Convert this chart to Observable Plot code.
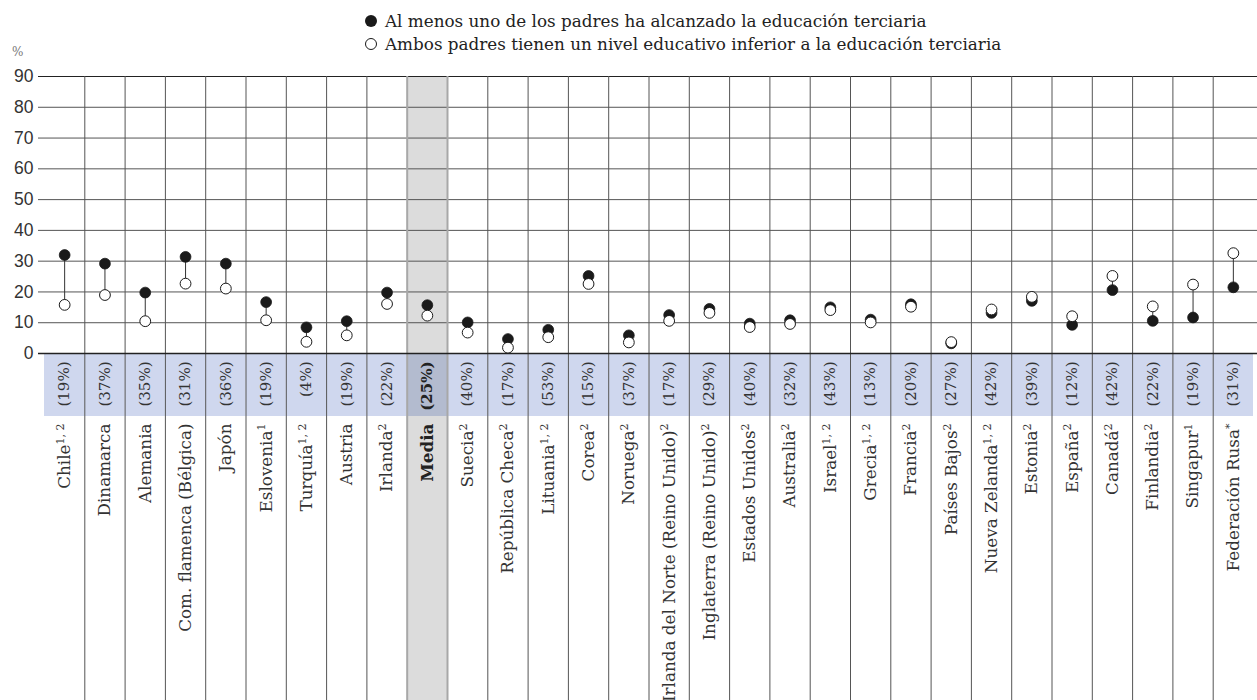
<!DOCTYPE html>
<html>
<head>
<meta charset="utf-8">
<script src="https://cdn.jsdelivr.net/npm/d3@7"></script>
<script src="https://cdn.jsdelivr.net/npm/@observablehq/plot@0.6"></script>
<style>
  body { margin: 0; background: #fff; }
  #head { position: relative; height: 60px; color: #222; }
  .leg { position: absolute; left: 364px; display: flex; align-items: center; white-space: nowrap; }
  .leg span { font-family: "DejaVu Serif", serif; font-size: 16.8px; }
  .leg svg { margin-right: 7px; }
  #pct { position: absolute; left: 12px; top: 45px; font-size: 12px; color: #777; font-family: "DejaVu Serif", serif; }
</style>
</head>
<body>
<div id="head">
  <div class="leg" style="top:11px"><svg width="14" height="14"><circle cx="7" cy="7" r="6" fill="#1a1a1a"/></svg><span>Al menos uno de los padres ha alcanzado la educación terciaria</span></div>
  <div class="leg" style="top:34px"><svg width="14" height="14"><circle cx="7" cy="7" r="5.5" fill="#fff" stroke="#1a1a1a" stroke-width="1"/></svg><span>Ambos padres tienen un nivel educativo inferior a la educación terciaria</span></div>
  <div id="pct">%</div>
</div>
<div id="chart"></div>
<script>
const countries = ["Chile","Dinamarca","Alemania","Com. flamenca (Bélgica)","Japón","Eslovenia","Turquía","Austria","Irlanda","Media","Suecia","República Checa","Lituania","Corea","Noruega","Irlanda del Norte (Reino Unido)","Inglaterra (Reino Unido)","Estados Unidos","Australia","Israel","Grecia","Francia","Países Bajos","Nueva Zelanda","Estonia","España","Canadá","Finlandia","Singapur","Federación Rusa"];
const notes = ["1, 2","","","","","1","1, 2","","2","","2","2","1, 2","2","2","2","2","2","2","1, 2","1, 2","2","2","1, 2","2","2","2","2","1","*"];
const shares = [19,37,35,31,36,19,4,19,22,25,40,17,53,15,37,17,29,40,32,43,13,20,27,42,39,12,42,22,19,31];
const tertiary = [32.0,29.2,19.8,31.4,29.2,16.7,8.5,10.5,19.8,15.7,10.1,4.7,7.7,25.2,5.9,12.5,14.5,9.7,10.8,15.0,11.0,16.0,3.3,13.2,17.1,9.3,20.6,10.6,11.7,21.5];
const belowTertiary = [15.8,19.0,10.5,22.7,21.1,10.8,3.8,5.9,16.1,12.3,6.8,1.9,5.3,22.6,3.6,10.6,13.2,8.6,9.6,14.1,10.1,15.2,3.7,14.3,18.4,12.1,25.2,15.3,22.4,32.6];
const yTicks = [0,10,20,30,40,50,60,70,80,90];
const averageName = "Media";

const data = countries.map((c, i) => ({
  i, country: c, note: notes[i], share: shares[i],
  hi: tertiary[i], lo: belowTertiary[i], avg: c === averageName
}));
const seps = d3.range(1, countries.length).map(k => ({pos: k - 0.5, avgEdge: data[k].avg || data[k - 1].avg}));

const serif = "DejaVu Serif";
const H = 640, MT = 16, MB = 347;

const chart = Plot.plot({
  width: 1257,
  height: H,
  marginLeft: 44,
  marginRight: 4,
  marginTop: MT,
  marginBottom: MB,
  style: {fontFamily: "Liberation Sans", background: "#fff", overflow: "visible"},
  x: {domain: [-0.5, countries.length - 0.5], axis: null},
  y: {domain: [0, 90], axis: null},
  marks: [
    // blue share band
    Plot.rect(data, {x1: d => d.i - 0.5, x2: d => d.i + 0.5, y1: 0, y2: 0, insetBottom: -63,
      fill: d => d.avg ? "#b3bbcf" : "#cfd7ee"}),
    // average column background
    Plot.rect(data.filter(d => d.avg), {x1: d => d.i - 0.5, x2: d => d.i + 0.5, y1: 90, y2: 0,
      fill: "#dcdcdc"}),
    Plot.rect(data.filter(d => d.avg), {x1: d => d.i - 0.5, x2: d => d.i + 0.5, y1: 0, y2: 0,
      insetTop: 63, insetBottom: -MB, fill: "#dcdcdc"}),
    // horizontal gridlines
    Plot.ruleY(yTicks.filter(t => t > 0 && t < 90), {stroke: "#555", strokeWidth: 1, insetLeft: -6, insetRight: -4}),
    Plot.ruleY([90], {stroke: "#222", strokeWidth: 1.2, insetLeft: -6, insetRight: -4}),
    // vertical separators
    Plot.ruleX(seps.filter(s => !s.avgEdge), {x: "pos", stroke: "#555", strokeWidth: 1, insetBottom: -MB}),
    Plot.ruleX(seps.filter(s => s.avgEdge), {x: "pos", stroke: "#a8a8a8", strokeWidth: 2, insetBottom: -MB}),
    Plot.ruleY([0], {stroke: "#222", strokeWidth: 1.5, insetLeft: -6, insetRight: -4}),
    // y tick labels
    Plot.text(yTicks, {x: -0.5, y: d => d, text: d => String(d), textAnchor: "end", dx: -11,
      fontSize: 17.5, fill: "#333", fontFamily: "Liberation Sans"}),
    // connectors and dots
    Plot.ruleX(data, {x: "i", y1: "hi", y2: "lo", stroke: "#333", strokeWidth: 1}),
    Plot.dot(data, {x: "i", y: "hi", r: 5.4, fill: "#1a1a1a", stroke: "#1a1a1a", strokeWidth: 0.8}),
    Plot.dot(data, {x: "i", y: "lo", r: 5.4, fill: "#fff", stroke: "#1a1a1a", strokeWidth: 1}),
    // share labels
    Plot.text(data, {x: "i", y: 0, text: d => `(${d.share}%)`, rotate: -90, textAnchor: "end", lineAnchor: "middle",
      dy: 8, fontSize: 15, fill: "#333", fontFamily: serif, fontWeight: "normal", filter: d => !d.avg}),
    Plot.text(data, {x: "i", y: 0, text: d => `(${d.share}%)`, rotate: -90, textAnchor: "end", lineAnchor: "middle",
      dy: 8, fontSize: 15, fill: "#222", fontFamily: serif, fontWeight: "bold", filter: d => d.avg}),
    // country labels
    Plot.text(data, {x: "i", y: 0, text: "country", rotate: -90, textAnchor: "end", lineAnchor: "middle",
      dy: 70, fontSize: 16.8, fill: "#333", fontFamily: serif, filter: d => !d.avg}),
    Plot.text(data, {x: "i", y: 0, text: "country", rotate: -90, textAnchor: "end", lineAnchor: "middle",
      dy: 70, fontSize: 16.8, fill: "#222", fontFamily: serif, fontWeight: "bold", filter: d => d.avg})
  ]
});

document.getElementById("chart").appendChild(chart);

// superscript notes on country labels
const noteOf = new Map(data.map(d => [d.country, d.note]));
chart.querySelectorAll("text").forEach(t => {
  if (t.querySelector("tspan")) return;
  const name = t.textContent;
  const n = noteOf.get(name);
  if (n) {
    const ts = document.createElementNS("http://www.w3.org/2000/svg", "tspan");
    ts.setAttribute("dy", "-0.55em");
    ts.setAttribute("font-size", "11");
    ts.textContent = n;
    t.appendChild(ts);
  }
});
</script>
</body>
</html>
